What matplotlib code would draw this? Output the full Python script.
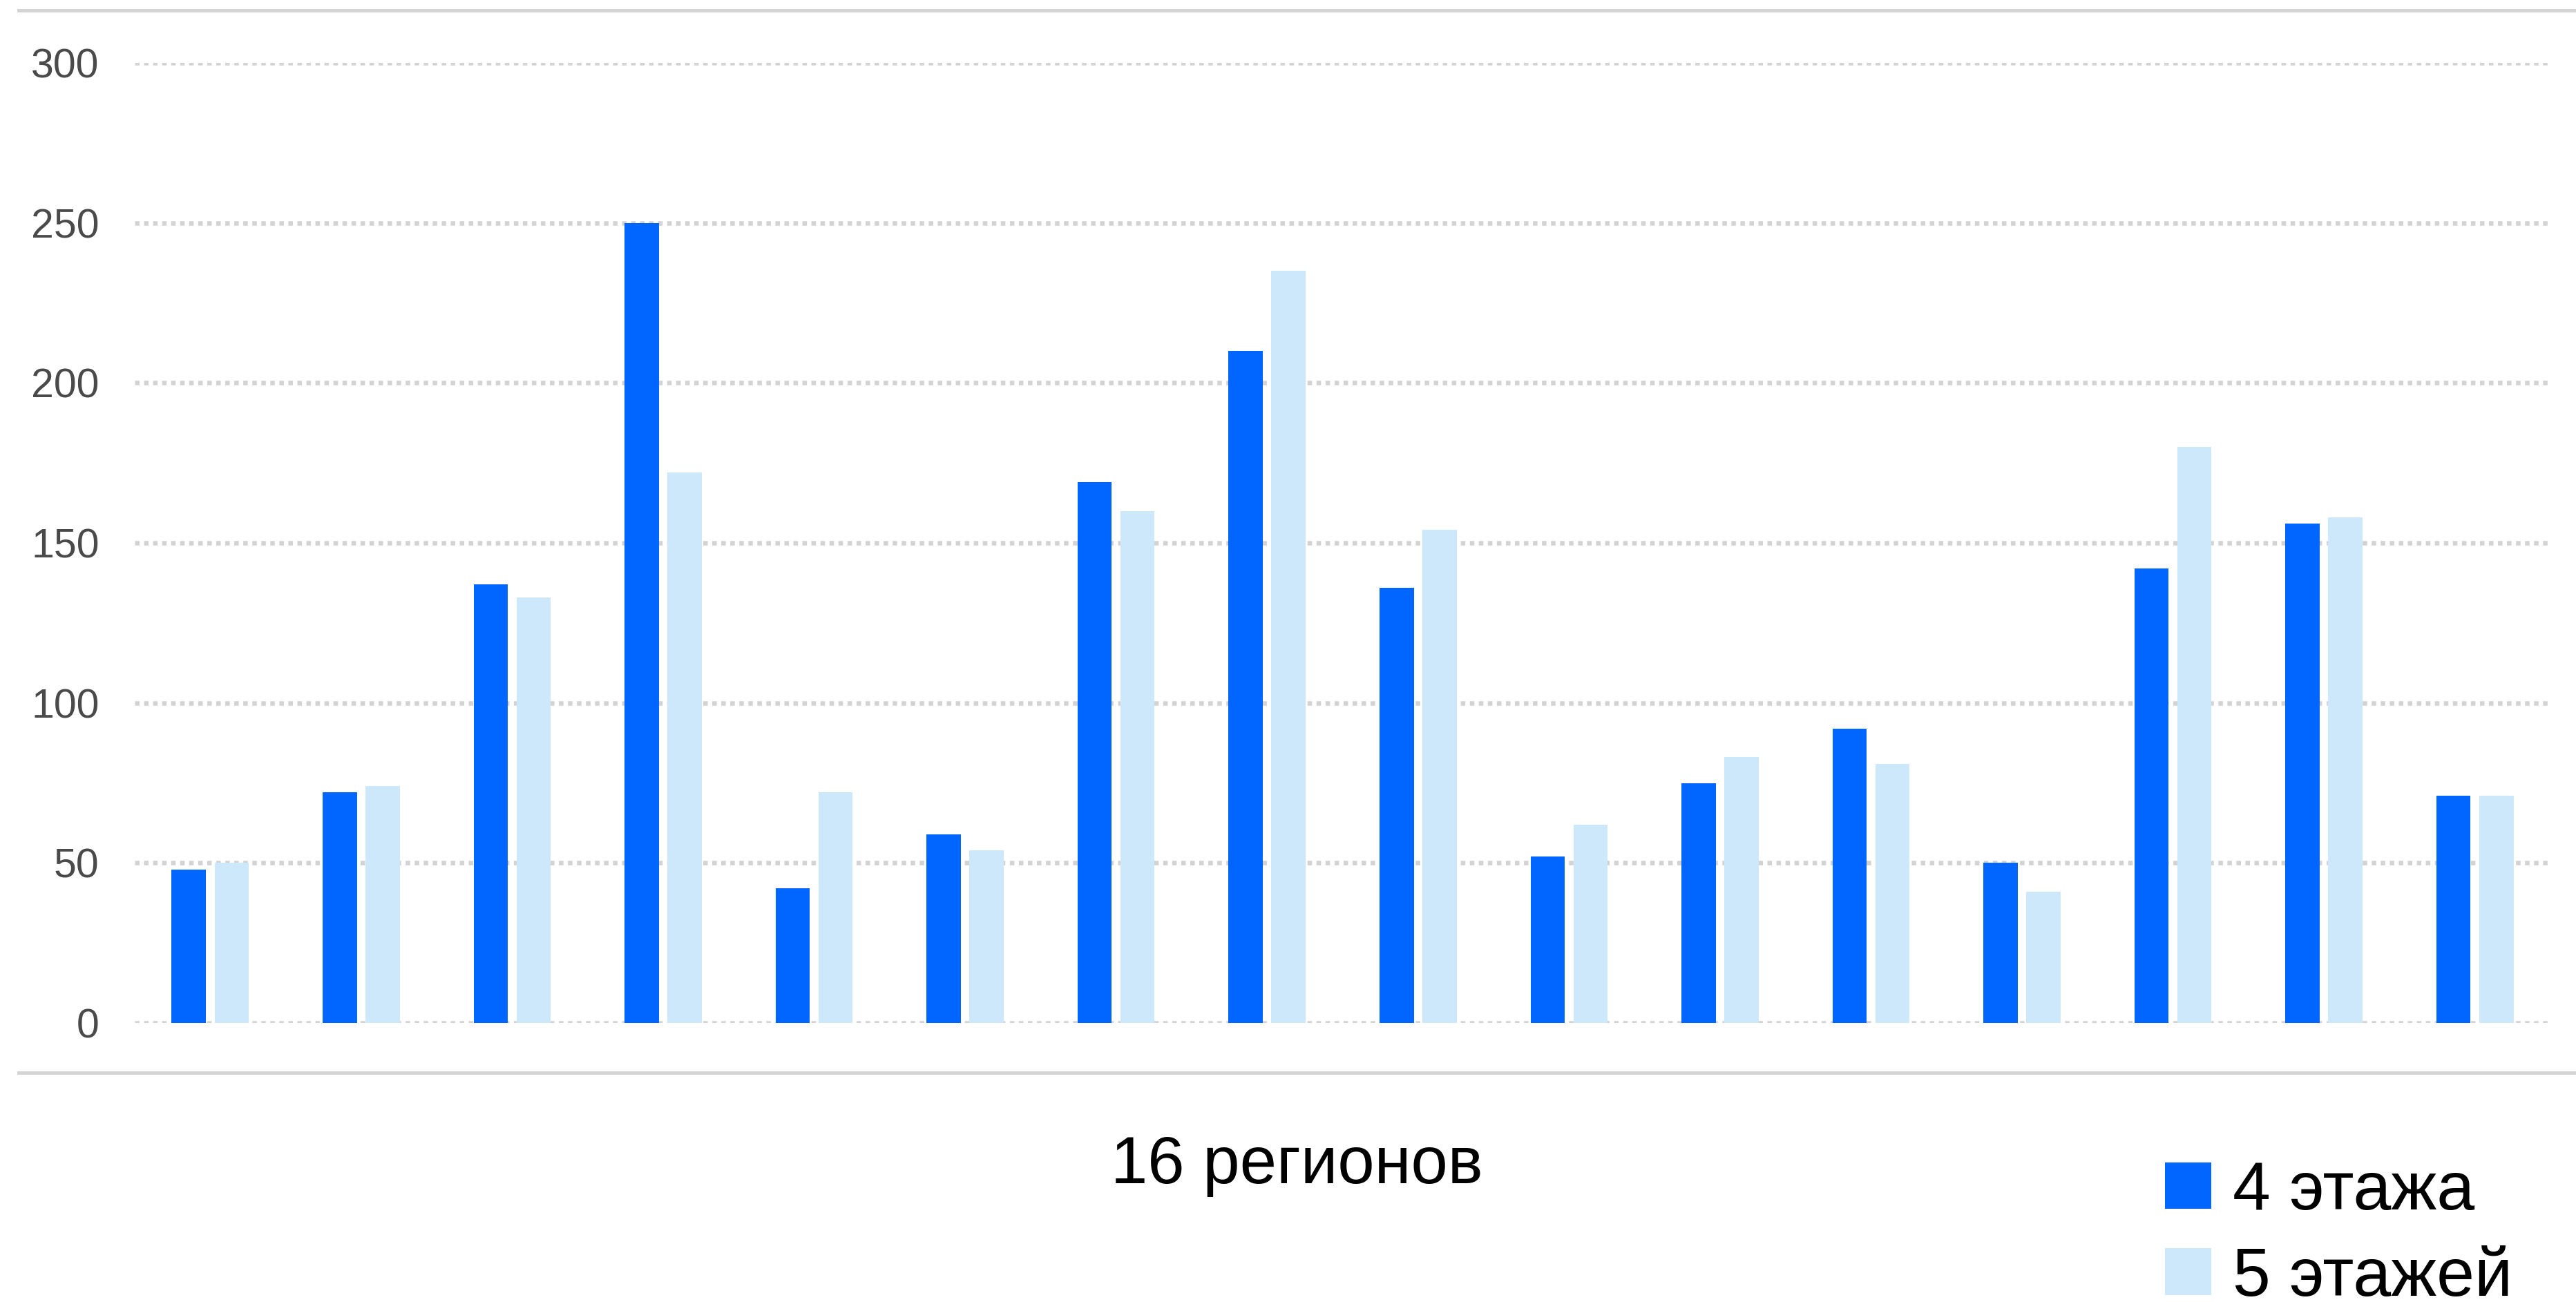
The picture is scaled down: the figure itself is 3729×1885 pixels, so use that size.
import matplotlib
matplotlib.use("Agg")
import matplotlib.pyplot as plt
import numpy as np
from matplotlib.lines import Line2D

plt.rcParams['font.family'] = ['Liberation Sans', 'DejaVu Sans']

# ---- data ----
regions = list(range(1, 17))          # 16 unnamed regions
floors4 = [48, 72, 137, 250, 42, 59, 169, 210, 136, 52, 75, 92, 50, 142, 156, 71]
floors5 = [50, 74, 133, 172, 72, 54, 160, 235, 154, 62, 83, 81, 41, 180, 158, 71]
series_labels = ["4 этажа", "5 этажей"]
yticks = [0, 50, 100, 150, 200, 250, 300]
xlabel = "16 регионов"

c_dark = "#0066ff"
c_light = "#cde7fb"

W, H, DPI = 3729, 1885, 100
fig = plt.figure(figsize=(W / DPI, H / DPI), dpi=DPI)
ax = fig.add_axes([195 / W, 1 - 1481 / H, (3692 - 195) / W, (1481 - 91) / H])

x = np.arange(len(regions))
bw = 0.227
off = 0.142
b1 = ax.bar(x - off, floors4, width=bw, color=c_dark, label=series_labels[0], zorder=3)
b2 = ax.bar(x + off, floors5, width=bw, color=c_light, label=series_labels[1], zorder=3)

ax.set_xlim(-0.5, len(regions) - 0.5)
ax.set_ylim(0, 300)
ax.set_yticks(yticks)
ax.set_yticklabels([str(t) for t in yticks])
ax.set_xticks([])
ax.tick_params(axis='y', length=0, pad=37, labelsize=42.5, labelcolor='#4a4a4a')
for s in ax.spines.values():
    s.set_visible(False)
ax.set_axisbelow(True)
ax.yaxis.grid(True, color='#d3d3d3', linewidth=4.7, linestyle=(0, (1, 1)),
              dash_capstyle='butt')
ax.xaxis.grid(False)

# frame lines (top / bottom separators)
for yy in (1 - 15 / H, 1 - 1553 / H):
    fig.add_artist(Line2D([27 / W, 1.0], [yy, yy], transform=fig.transFigure,
                          color='#d4d4d4', linewidth=3.6))

fig.text(1877 / W, 1 - 1713 / H, xlabel, ha='center', va='baseline',
         fontsize=69, color='black')

fig.legend(handles=[b1, b2], labels=series_labels, loc='upper left',
           bbox_to_anchor=(3134 / W, 1 - 1680 / H), frameon=False,
           fontsize=71, handlelength=0.68, handleheight=0.68,
           handletextpad=0.31, labelspacing=0.34, borderpad=0,
           borderaxespad=0)

fig.savefig("out.png", dpi=DPI, facecolor='white')
